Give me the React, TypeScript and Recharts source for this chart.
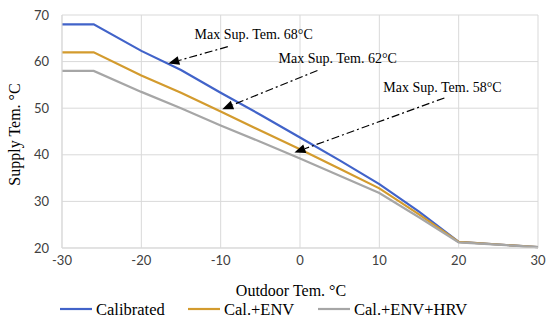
import { LineChart, Line, XAxis, YAxis, CartesianGrid, ReferenceLine, ReferenceDot } from 'recharts';

const outdoor = [-30, -26, -20, -15, -10, -5, 0, 5, 10, 15, 20, 30];
const calibrated = [68, 68, 62.3, 58.2, 53.3, 48.6, 43.7, 38.8, 33.7, 27.8, 21.3, 20.2];
const calEnv = [62, 62, 57, 53.3, 49.3, 45.2, 41.2, 37, 32.8, 27.2, 21.3, 20.2];
const calEnvHrv = [58, 58, 53.5, 50, 46.3, 42.8, 39.2, 35.5, 31.8, 26.6, 21.2, 20.2];
const xTicks = [-30, -20, -10, 0, 10, 20, 30];
const yTicks = [20, 30, 40, 50, 60, 70];

const series = [
  { key: 'calibrated', name: 'Calibrated', color: '#4163c9' },
  { key: 'calEnv', name: 'Cal.+ENV', color: '#d39b2e' },
  { key: 'calEnvHrv', name: 'Cal.+ENV+HRV', color: '#a6a6a6' },
];
const legendX = [60, 188, 318];

const notes = [
  { text: 'Max Sup. Tem. 68°C', tx: -13.3, ty: 65.8, from: { x: -9.1, y: 63.2 }, to: { x: -16.6, y: 59.6 } },
  { text: 'Max Sup. Tem. 62°C', tx: -2.7, ty: 60.6, from: { x: 2.2, y: 58.1 }, to: { x: -9.8, y: 49.8 } },
  { text: 'Max Sup. Tem. 58°C', tx: 10.5, ty: 54.5, from: { x: 18.2, y: 52.2 }, to: { x: -0.7, y: 40.5 } },
];

const data = outdoor.map((x, i) => ({
  x,
  calibrated: calibrated[i],
  calEnv: calEnv[i],
  calEnvHrv: calEnvHrv[i],
}));

const serif = '"Liberation Serif", "Times New Roman", serif';
const tickFont = { fontSize: 13, fill: '#404040', fontFamily: 'Lato, "Open Sans", sans-serif' };

function Arrow(p: any) {
  const { x1, y1, x2, y2 } = p;
  const ang = Math.atan2(y2 - y1, x2 - x1);
  const len = 11;
  const w = 4.5;
  const bx = x2 - len * Math.cos(ang);
  const by = y2 - len * Math.sin(ang);
  const nx = -Math.sin(ang) * w;
  const ny = Math.cos(ang) * w;
  return (
    <g>
      <line x1={x1} y1={y1} x2={bx} y2={by} stroke="#000" strokeWidth={1.2} strokeDasharray="8 3 2 3" />
      <polygon points={`${x2},${y2} ${bx + nx},${by + ny} ${bx - nx},${by - ny}`} fill="#000" />
    </g>
  );
}

export default function App() {
  return (
    <div style={{ position: 'absolute', left: 0, top: 0, width: 550, height: 332, background: '#fff' }}>
      <LineChart width={550} height={332} data={data} margin={{ top: 15, right: 12, left: 0, bottom: 30 }}>
        <CartesianGrid stroke="#d9d9d9" />
        <XAxis
          type="number"
          dataKey="x"
          domain={[-30, 30]}
          ticks={xTicks}
          axisLine={{ stroke: '#d9d9d9' }}
          tickLine={false}
          tick={tickFont}
          height={54}
          label={{ value: 'Outdoor Tem. °C', position: 'insideBottom', offset: 6, dx: -9, style: { fontFamily: serif, fontSize: 16, fill: '#000' } }}
        />
        <YAxis
          type="number"
          domain={[20, 70]}
          ticks={yTicks}
          axisLine={{ stroke: '#d9d9d9' }}
          tickLine={false}
          tickMargin={7}
          tick={tickFont}
          width={62}
          label={{
            content: ({ viewBox }: any) => {
              const cy = viewBox.y + viewBox.height / 2 + 3;
              return (
                <text x={14} y={cy} transform={`rotate(-90 14 ${cy})`} textAnchor="middle" dominantBaseline="central" fontFamily={serif} fontSize={16} fill="#000">
                  Supply Tem. °C
                </text>
              );
            },
          }}
        />
        {series.map((s) => (
          <Line
            key={s.key}
            type="linear"
            dataKey={s.key}
            name={s.name}
            stroke={s.color}
            strokeWidth={2.2}
            dot={false}
            isAnimationActive={false}
          />
        ))}
        {notes.map((n) => (
          <ReferenceLine key={'l' + n.text} segment={[n.from, n.to]} ifOverflow="visible" shape={Arrow} />
        ))}
        {notes.map((n) => (
          <ReferenceDot
            key={'t' + n.text}
            x={n.tx}
            y={n.ty}
            r={0}
            ifOverflow="visible"
            shape={(p: any) => (
              <text x={p.cx} y={p.cy} dominantBaseline="central" fontFamily={serif} fontSize={14} fill="#000">
                {n.text}
              </text>
            )}
          />
        ))}
      </LineChart>
      <svg width={550} height={30} style={{ position: 'absolute', left: 0, top: 296 }}>
        {series.map((s, i) => (
          <g key={s.key}>
            <line x1={legendX[i]} x2={legendX[i] + 32} y1={13} y2={13} stroke={s.color} strokeWidth={2.2} />
            <text x={legendX[i] + 36} y={13} dominantBaseline="central" fontFamily={serif} fontSize={16.5} fill="#000">
              {s.name}
            </text>
          </g>
        ))}
      </svg>
    </div>
  );
}
